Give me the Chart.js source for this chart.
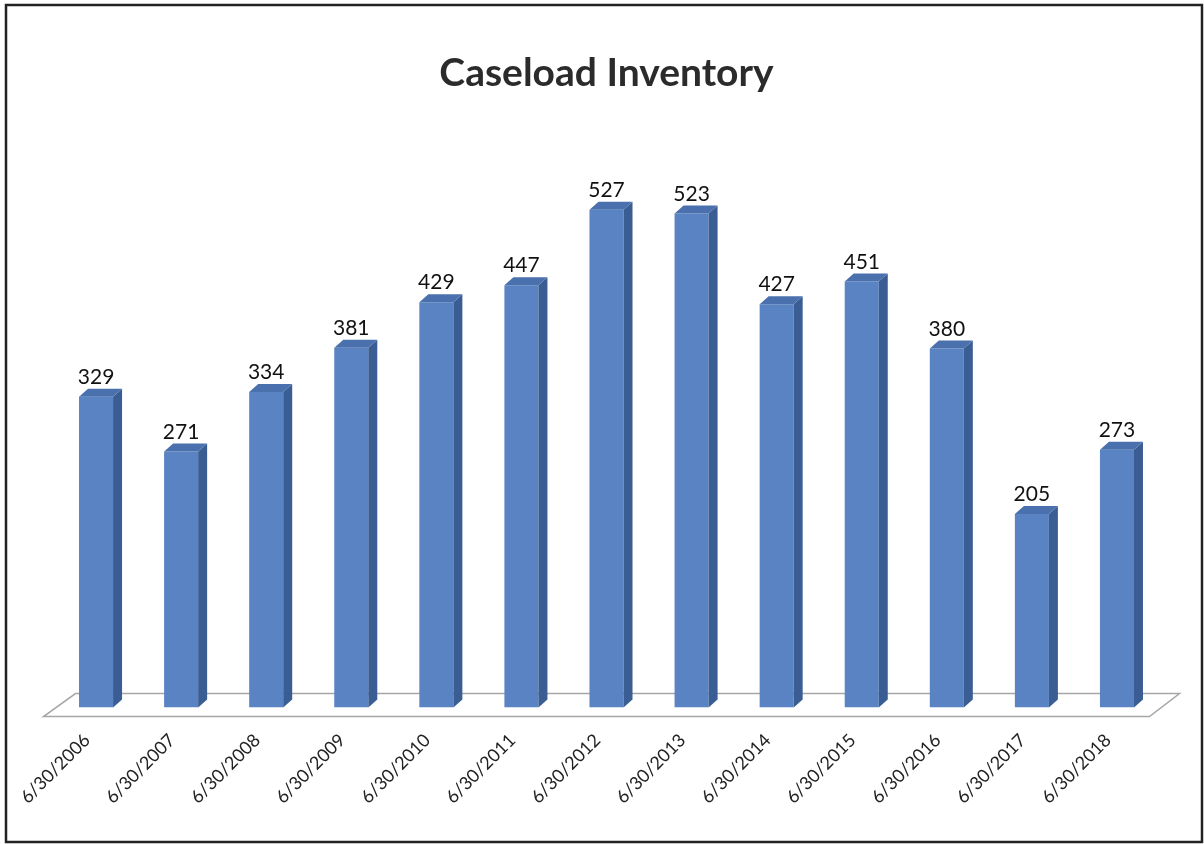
<!DOCTYPE html>
<html>
<head>
<meta charset="utf-8">
<title>Caseload Inventory</title>
<script src="https://cdn.jsdelivr.net/npm/chart.js@4.4.1/dist/chart.umd.min.js"></script>
<style>
  html, body { margin: 0; padding: 0; background: #fff; }
  #wrap { position: relative; width: 1204px; height: 844px; }
</style>
</head>
<body>
<div id="wrap"><canvas id="chart" width="1204" height="844"></canvas></div>
<script>
// Data
const dates = [
  "6/30/2006", "6/30/2007", "6/30/2008", "6/30/2009", "6/30/2010",
  "6/30/2011", "6/30/2012", "6/30/2013", "6/30/2014", "6/30/2015",
  "6/30/2016", "6/30/2017", "6/30/2018"
];
const caseload = [329, 271, 334, 381, 429, 447, 527, 523, 427, 451, 380, 205, 273];
const yMin = 0;
const yMax = 600;

// colours of the fake 3D bars
const frontColor = "#5983c2";
const sideColor = "#3a5d93";
const topColor = "#4a70ad";
const depthX = 9;
const depthY = 8;

// floor + 3D faces + value labels + page border
const bar3d = {
  id: "bar3d",
  beforeDatasetsDraw(chart) {
    const { ctx, chartArea } = chart;
    const b = chartArea.bottom;
    ctx.save();
    ctx.beginPath();
    ctx.moveTo(chartArea.left - 10, b + 9);
    ctx.lineTo(chartArea.right - 10, b + 9);
    ctx.lineTo(chartArea.right + 20, b - 14);
    ctx.lineTo(chartArea.left + 22, b - 14);
    ctx.closePath();
    ctx.fillStyle = "#ffffff";
    ctx.fill();
    ctx.strokeStyle = "#a6a6a6";
    ctx.lineWidth = 1.5;
    ctx.stroke();
    ctx.restore();
  },
  afterDatasetsDraw(chart) {
    const { ctx } = chart;
    const meta = chart.getDatasetMeta(0);
    ctx.save();
    meta.data.forEach((bar, i) => {
      const half = bar.width / 2;
      const l = bar.x - half;
      const r = bar.x + half;
      const t = bar.y;
      const base = bar.base;

      // right side face
      ctx.beginPath();
      ctx.moveTo(r, t);
      ctx.lineTo(r + depthX, t - depthY);
      ctx.lineTo(r + depthX, base - depthY);
      ctx.lineTo(r, base);
      ctx.closePath();
      ctx.fillStyle = sideColor;
      ctx.fill();

      // top face
      ctx.beginPath();
      ctx.moveTo(l, t);
      ctx.lineTo(l + depthX, t - depthY);
      ctx.lineTo(r + depthX, t - depthY);
      ctx.lineTo(r, t);
      ctx.closePath();
      ctx.fillStyle = topColor;
      ctx.fill();

      // value label
      ctx.fillStyle = "#111111";
      ctx.font = "21px Lato";
      ctx.textAlign = "center";
      ctx.textBaseline = "alphabetic";
      ctx.fillText(caseload[i], bar.x, t - 13);
    });
    ctx.restore();
  },
  afterDraw(chart) {
    const { ctx } = chart;
    ctx.save();
    ctx.strokeStyle = "#222222";
    ctx.lineWidth = 2.5;
    ctx.strokeRect(6, 5, 1196, 837);
    ctx.restore();
  }
};

const data = {
  labels: dates,
  datasets: [
    {
      label: "Caseload",
      data: caseload,
      backgroundColor: frontColor,
      borderWidth: 0,
      barPercentage: 0.4,
      categoryPercentage: 1.0,
    },
  ],
};

const options = {
  responsive: false,
  animation: false,
  layout: {
    padding: { left: 53.5, right: 44.5, top: 50, bottom: 14 },
  },
  plugins: {
    legend: { display: false },
    tooltip: { enabled: false },
    title: {
      display: true,
      text: "Caseload Inventory",
      color: "#2b2b2b",
      font: { family: "Lato", size: 39, weight: "bold" },
      padding: { top: 0, bottom: 44 },
    },
  },
  scales: {
    x: {
      grid: { display: false, drawTicks: false },
      border: { display: false },
      ticks: {
        minRotation: 45,
        maxRotation: 45,
        autoSkip: false,
        padding: 22,
        labelOffset: -9,
        color: "#222222",
        font: { family: "Lato", size: 18 },
      },
    },
    y: {
      display: false,
      min: yMin,
      max: yMax,
    },
  },
};

new Chart(document.getElementById("chart"), {
  type: "bar",
  data: data,
  options: options,
  plugins: [bar3d],
});
</script>
</body>
</html>
